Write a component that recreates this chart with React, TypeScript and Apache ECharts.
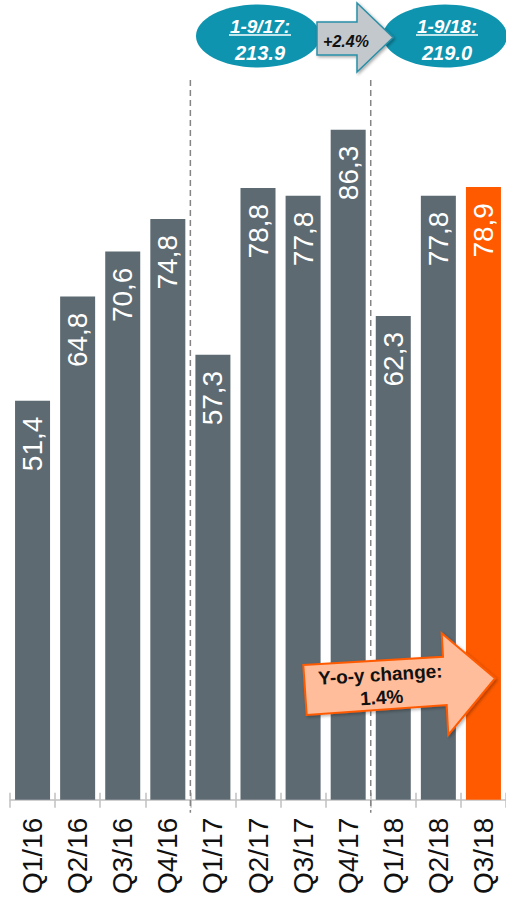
import React, { useEffect, useRef } from "react";
import * as echarts from "echarts";

const categories = ["Q1/16", "Q2/16", "Q3/16", "Q4/16", "Q1/17", "Q2/17", "Q3/17", "Q4/17", "Q1/18", "Q2/18", "Q3/18"];
const values = [51.4, 64.8, 70.6, 74.8, 57.3, 78.8, 77.8, 86.3, 62.3, 77.8, 78.9];
const highlightIndex = 10;
const dividerAfter = [3, 7];
const periodLabels = ["1-9/17:", "1-9/18:"];
const periodValues = ["213.9", "219.0"];
const periodChange = "+2.4%";
const yoyText = "Y-o-y change:\n1.4%";

const FONT = "'Liberation Sans', Arial, sans-serif";
const GRAY = "#5D6A72";
const ORANGE = "#FF5A00";
const TEAL = "#0F94AF";

export default function App() {
  const ref = useRef<HTMLDivElement>(null);
  useEffect(() => {
    if (!ref.current) return;
    const chart = echarts.init(ref.current, null, { renderer: "svg" });
    chart.setOption({
      animation: false,
      textStyle: { fontFamily: FONT },
      grid: { left: 10, top: 0, width: 501, height: 800, containLabel: false },
      xAxis: [
        {
          type: "category",
          data: categories,
          axisLine: { show: true, lineStyle: { color: "#C0C0C0", width: 1.5 } },
          axisTick: { show: true, length: 8, lineStyle: { color: "#C0C0C0", width: 1.5 } },
          axisLabel: { rotate: 90, fontSize: 28, color: "#111", margin: 18, fontFamily: FONT, interval: 0 },
        },
        {
          type: "category",
          data: categories,
          position: "bottom",
          axisLine: { show: false },
          axisTick: { show: true, inside: true, length: 7, lineStyle: { color: "#C0C0C0", width: 1.5 } },
          axisLabel: { show: false },
        },
      ],
      yAxis: { type: "value", min: 0, max: 103, show: false },
      series: [
        {
          type: "bar",
          barWidth: 35,
          data: values.map((v, i) => ({
            value: v,
            itemStyle: { color: i === highlightIndex ? ORANGE : GRAY },
          })),
          label: {
            show: true,
            position: "insideTop",
            rotate: 90,
            align: "right",
            verticalAlign: "middle",
            distance: 16,
            color: "#fff",
            fontSize: 28,
            fontFamily: FONT,
            formatter: (p: any) => String(p.value.toFixed(1)).replace(".", ","),
          },
        },
      ],
    });

    const cx = (i: number) => chart.convertToPixel({ xAxisIndex: 0 }, i) as number;
    const yBase = chart.convertToPixel({ yAxisIndex: 0 }, 0) as number;
    const dividers = dividerAfter.map((i) => {
      const x = (cx(i) + cx(i + 1)) / 2;
      return {
        type: "line",
        z: 1,
        shape: { x1: x, y1: 80, x2: x, y2: yBase + 13 },
        style: { stroke: "#858585", lineWidth: 1.5, lineDash: [6, 4] },
      };
    });

    const ellipse = (x: number, label: string, val: string) => [
      {
        type: "ellipse",
        z: 10,
        shape: { cx: x, cy: 36, rx: 62, ry: 31.5 },
        style: { fill: TEAL },
      },
      {
        type: "text",
        z: 12,
        x: x + 2,
        y: 26,
        style: {
          text: label,
          fill: "#fff",
          font: `italic bold 19px ${FONT}`,
          align: "center",
          verticalAlign: "middle",
        },
      },
      {
        type: "line",
        z: 12,
        shape: { x1: x - 29, y1: 35, x2: x + 33, y2: 35 },
        style: { stroke: "#fff", lineWidth: 1.5 },
      },
      {
        type: "text",
        z: 12,
        x: x + 2,
        y: 53,
        style: {
          text: val,
          fill: "#fff",
          font: `italic bold 20px ${FONT}`,
          align: "center",
          verticalAlign: "middle",
        },
      },
    ];

    chart.setOption({
      graphic: [
        ...dividers,
        ...ellipse(258, periodLabels[0], periodValues[0]),
        ...ellipse(445, periodLabels[1], periodValues[1]),
        {
          type: "polygon",
          z: 20,
          shape: {
            points: [
              [317, 22], [357, 22], [357, 3], [393, 37.5], [357, 72], [357, 55], [317, 55],
            ],
          },
          style: {
            fill: "#C3C8CC",
            stroke: "#2A8EA6",
            lineWidth: 1.5,
            shadowBlur: 3,
            shadowColor: "rgba(0,0,0,0.35)",
            shadowOffsetX: 1.5,
            shadowOffsetY: 1.5,
          },
        },
        {
          type: "text",
          z: 21,
          x: 346,
          y: 41,
          style: {
            text: periodChange,
            fill: "#111",
            font: `italic bold 16px ${FONT}`,
            align: "center",
            verticalAlign: "middle",
          },
        },
        {
          type: "polygon",
          z: 30,
          shape: {
            points: [
              [303.3, 665], [443, 656.7], [441.7, 633.3], [495, 678.3], [448.3, 735], [446.7, 705], [306.7, 715],
            ],
          },
          style: {
            fill: "#FFBD9B",
            stroke: ORANGE,
            lineWidth: 2,
            shadowBlur: 3,
            shadowColor: "rgba(0,0,0,0.3)",
            shadowOffsetX: 1.5,
            shadowOffsetY: 1.5,
          },
        },
        {
          type: "text",
          z: 31,
          x: 381,
          y: 686,
          rotation: 0.06,
          style: {
            text: yoyText,
            fill: "#111",
            font: `bold 19px ${FONT}`,
            lineHeight: 23,
            align: "center",
            verticalAlign: "middle",
          },
        },
      ],
    });

    return () => chart.dispose();
  }, []);
  return (
    <div
      ref={ref}
      style={{ position: "absolute", left: 0, top: 0, width: 506, height: 897, background: "#fff" }}
    />
  );
}
